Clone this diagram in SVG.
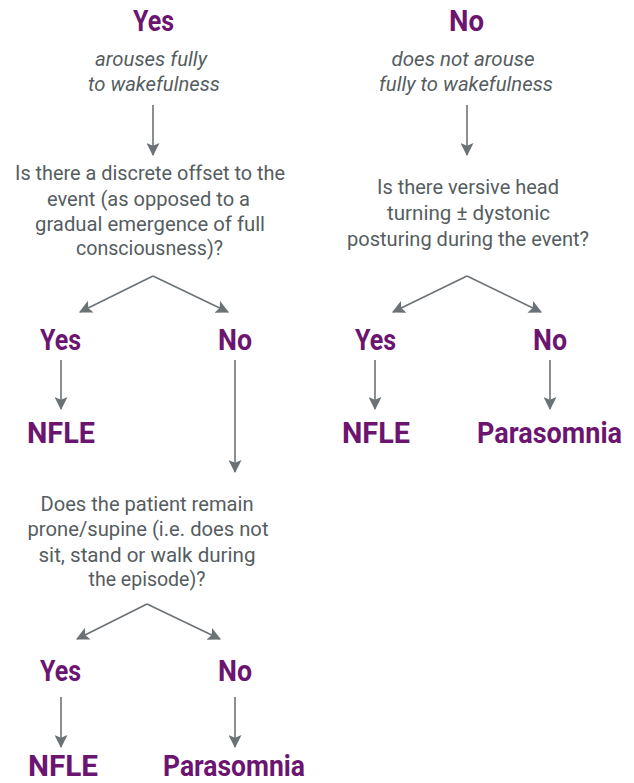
<svg xmlns="http://www.w3.org/2000/svg" width="634" height="783" viewBox="0 0 634 783">
<style>
.b{font-family:Roboto,"Liberation Sans",sans-serif;font-weight:bold;font-size:29px;fill:#6c1570;text-anchor:middle}
.t{font-family:Roboto,"Liberation Sans",sans-serif;font-size:20px;fill:#555d61;text-anchor:middle}
.i{font-family:Roboto,"Liberation Sans",sans-serif;font-style:italic;font-size:20px;fill:#555d61;text-anchor:middle}
.c{stroke:#6b7276;stroke-width:1.6;fill:none;marker-end:url(#ah)}
</style>
<defs>
<marker id="ah" viewBox="0 0 12 12" refX="11" refY="6" markerWidth="13" markerHeight="13" markerUnits="userSpaceOnUse" orient="auto">
<path d="M0,0 L12,6 L0,12 L2.5,6 z" fill="#6b7276"/>
</marker>
</defs>
<g id="connectors">
<path class="c" d="M153,105 L153,155"/>
<path class="c" d="M467,105 L467,155"/>
<path class="c" d="M153,276 L80,312"/>
<path class="c" d="M153,276 L228,312"/>
<path class="c" d="M467,276 L393,312"/>
<path class="c" d="M467,276 L541,312"/>
<path class="c" d="M61,360 L61,409"/>
<path class="c" d="M235,360 L235,472"/>
<path class="c" d="M375,360 L375,409"/>
<path class="c" d="M550,360 L550,409"/>
<path class="c" d="M147,604 L77,639"/>
<path class="c" d="M147,604 L220,639"/>
<path class="c" d="M61,697 L61,747"/>
<path class="c" d="M235,697 L235,747"/>
</g>
<g id="yes-top"><text class="b" x="153.5" y="31" textLength="41" lengthAdjust="spacingAndGlyphs">Yes</text></g>
<g id="no-top"><text class="b" x="466.5" y="31" textLength="35" lengthAdjust="spacingAndGlyphs">No</text></g>
<g id="arouses">
<text class="i" x="151" y="66" textLength="112" lengthAdjust="spacingAndGlyphs">arouses fully</text>
<text class="i" x="154" y="91" textLength="132" lengthAdjust="spacingAndGlyphs">to wakefulness</text>
</g>
<g id="not-arouse">
<text class="i" x="463" y="66" textLength="143" lengthAdjust="spacingAndGlyphs">does not arouse</text>
<text class="i" x="466" y="91" textLength="174" lengthAdjust="spacingAndGlyphs">fully to wakefulness</text>
</g>
<g id="q-offset">
<text class="t" x="150" y="180" textLength="270" lengthAdjust="spacingAndGlyphs">Is there a discrete offset to the</text>
<text class="t" x="148.5" y="205.5" textLength="203" lengthAdjust="spacingAndGlyphs">event (as opposed to a</text>
<text class="t" x="150" y="231" textLength="230" lengthAdjust="spacingAndGlyphs">gradual emergence of full</text>
<text class="t" x="149.5" y="255" textLength="147" lengthAdjust="spacingAndGlyphs">consciousness)?</text>
</g>
<g id="q-versive">
<text class="t" x="468" y="194" textLength="182" lengthAdjust="spacingAndGlyphs">Is there versive head</text>
<text class="t" x="468.5" y="220" textLength="163" lengthAdjust="spacingAndGlyphs">turning ± dystonic</text>
<text class="t" x="468" y="245.5" textLength="242" lengthAdjust="spacingAndGlyphs">posturing during the event?</text>
</g>
<g id="yes-l2"><text class="b" x="60.5" y="350" textLength="41" lengthAdjust="spacingAndGlyphs">Yes</text></g>
<g id="no-l2"><text class="b" x="235" y="350" textLength="34" lengthAdjust="spacingAndGlyphs">No</text></g>
<g id="yes-r2"><text class="b" x="375.5" y="350" textLength="41" lengthAdjust="spacingAndGlyphs">Yes</text></g>
<g id="no-r2"><text class="b" x="550" y="350" textLength="34" lengthAdjust="spacingAndGlyphs">No</text></g>
<g id="nfle-l"><text class="b" x="61" y="443" textLength="68" lengthAdjust="spacingAndGlyphs">NFLE</text></g>
<g id="nfle-r"><text class="b" x="376" y="443" textLength="68" lengthAdjust="spacingAndGlyphs">NFLE</text></g>
<g id="para-r"><text class="b" x="549.5" y="443" textLength="145" lengthAdjust="spacingAndGlyphs">Parasomnia</text></g>
<g id="q-prone">
<text class="t" x="147" y="510.5" textLength="213" lengthAdjust="spacingAndGlyphs">Does the patient remain</text>
<text class="t" x="148" y="536" textLength="241" lengthAdjust="spacingAndGlyphs">prone/supine (i.e. does not</text>
<text class="t" x="147" y="561.5" textLength="217" lengthAdjust="spacingAndGlyphs">sit, stand or walk during</text>
<text class="t" x="147" y="586" textLength="117" lengthAdjust="spacingAndGlyphs">the episode)?</text>
</g>
<g id="yes-b"><text class="b" x="60.5" y="681" textLength="41" lengthAdjust="spacingAndGlyphs">Yes</text></g>
<g id="no-b"><text class="b" x="235" y="681" textLength="34" lengthAdjust="spacingAndGlyphs">No</text></g>
<g id="nfle-b"><text class="b" x="63" y="776" textLength="70" lengthAdjust="spacingAndGlyphs">NFLE</text></g>
<g id="para-b"><text class="b" x="234" y="776" textLength="142" lengthAdjust="spacingAndGlyphs">Parasomnia</text></g>
</svg>
